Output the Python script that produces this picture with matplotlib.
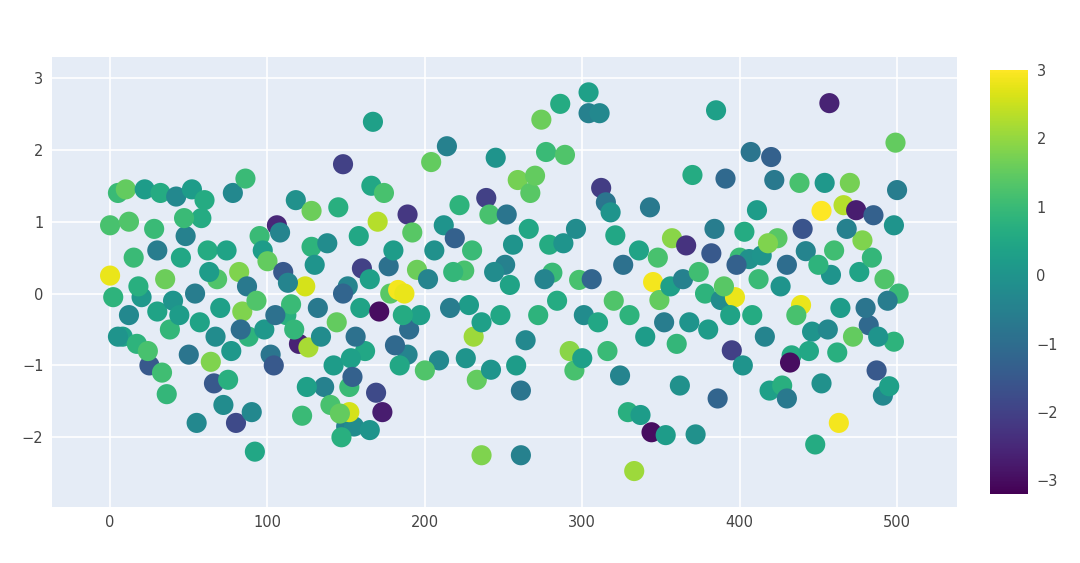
import matplotlib
matplotlib.use("Agg")
import matplotlib.pyplot as plt

# estimated points: (x, y, colour value)
pts = [
(0,0.25,2.8),(0,0.95,1.2),(2,-0.05,0.8),(5,1.4,1.0),(8,-0.6,0.3),(10,1.45,1.5),(12,1.0,1.3),(15,0.5,1.0),
(17,-0.7,0.8),(20,-0.05,0.1),(22,1.45,0.2),(25,-1.0,-1.5),(28,0.9,1.0),(30,-0.25,0.4),(32,1.4,0.6),(35,0.2,1.6),
(36,-1.4,0.9),(38,-0.5,0.9),(40,-0.1,0.0),(42,1.35,-0.3),(45,0.5,0.5),(48,0.8,-0.5),(50,-0.85,-0.8),(52,1.45,0.2),
(55,-1.8,-0.3),(58,1.05,0.6),(60,1.3,0.6),(62,0.6,0.6),(64,-0.95,1.8),(66,-1.25,-1.5),(68,0.2,1.3),(70,-0.2,0.3),
(72,-1.55,-0.2),(75,-1.2,0.7),(78,1.4,-0.3),(80,-1.8,-1.8),(82,0.3,1.8),(84,-0.25,1.8),(86,1.6,1.0),(88,-0.6,0.8),
(90,-1.65,-0.3),(92,-2.2,0.5),(95,0.8,1.0),(97,0.6,0.2),(100,0.45,1.5),(102,-0.85,-0.8),(104,-1.0,-1.5),(106,0.95,-2.5),
(108,0.85,-0.4),(110,0.3,-1.5),(112,-0.3,0.7),(115,-0.15,1.0),(118,1.3,-0.1),(120,-0.7,-2.6),(122,-1.7,1.0),(124,0.1,2.6),
(126,-0.75,2.2),(128,0.65,0.8),(130,0.4,0.0),(134,-0.6,-0.2),(136,-1.3,-0.5),(140,-1.55,1.2),(142,-1.0,0.2),(145,1.2,0.7),
(148,1.8,-2.0),(150,-1.85,-0.5),(152,-1.3,1.0),(155,-1.85,-0.2),(158,0.8,0.5),(160,0.35,-2.0),(162,-0.8,0.5),(165,0.2,0.3),
(5,-0.6,0.0),(12,-0.3,-0.3),(18,0.1,0.7),(24,-0.8,1.2),(30,0.6,-0.6),(33,-1.1,1.1),(44,-0.3,0.2),(47,1.05,1.0),
(54,0.0,-0.6),(57,-0.4,0.4),(63,0.3,0.2),(67,-0.6,-0.2),(74,0.6,0.4),(77,-0.8,0.1),(83,-0.5,-1.0),(87,0.1,-0.7),
(93,-0.1,1.3),(98,-0.5,0.1),(105,-0.3,-0.9),(113,0.15,-0.4),(117,-0.5,0.9),(125,-1.3,0.3),(132,-0.2,-0.7),(138,0.7,-0.2),
(144,-0.4,1.5),(151,0.1,-0.4),(156,-0.6,-0.9),(159,-0.2,0.4),(128,1.15,1.6),(148,0.0,-1.2),(153,-0.9,0.3),
(167,2.39,0.3),(166,1.5,0.5),(174,1.4,1.2),(170,1.0,2.3),(171,-0.25,-3.0),(173,-1.65,-2.7),(169,-1.38,-1.8),(165,-1.9,0.0),
(154,-1.16,-1.3),(152,-1.65,2.6),(146,-1.67,1.5),(147,-2.0,0.7),(177,0.38,-0.9),(178,0.0,1.4),(183,0.05,2.9),(187,0.0,2.8),
(189,1.1,-2.2),(192,0.85,1.4),(195,0.33,1.6),(204,1.83,1.5),(214,2.05,-0.5),(212,0.95,0.0),(209,-0.93,-0.3),(200,-1.07,1.3),
(190,-0.5,-1.0),(189,-0.85,-0.4),(184,-1.0,0.5),(181,-0.72,-1.1),(197,-0.3,0.3),(202,0.2,-0.4),(219,0.77,-1.3),(222,1.23,0.8),
(225,0.32,1.2),(228,-0.16,0.2),(231,-0.6,2.1),(233,-1.2,1.5),(236,-2.25,1.8),(239,1.33,-2.0),(242,-1.06,0.0),(245,1.89,0.0),
(241,1.1,1.2),(251,0.4,-0.5),(254,0.12,0.4),(256,0.68,0.0),(259,1.58,1.7),(261,-1.35,-0.8),(261,-2.25,-0.5),(264,-0.65,-0.3),
(267,1.4,1.4),(270,1.64,1.5),(274,2.42,1.6),(277,1.97,1.0),(279,0.68,0.6),(281,0.29,1.0),(286,2.64,0.6),(289,1.93,1.3),
(292,-0.8,1.9),(295,-1.07,1.2),(298,0.19,1.2),(301,-0.3,-0.2),(304,2.8,0.3),(304,2.51,-0.5),(311,2.51,-0.3),(312,1.47,-2.1),
(315,1.27,-0.8),(318,1.13,0.0),(321,0.81,0.5),(324,-1.14,-0.4),(329,-1.65,0.7),(333,-2.47,2.1),(337,-1.69,0.2),(343,1.2,-0.7),
(344,-1.93,-3.0),(345,0.16,2.9),(349,-0.09,1.5),(353,-1.97,0.2),(357,0.77,1.9),(362,-1.28,-0.1),(366,0.67,-2.3),(370,1.65,0.6),
(372,-1.96,-0.1),(378,0.0,0.8),(382,0.56,-1.5),(385,2.55,0.3),(388,-0.09,-0.2),(386,-1.46,-1.2),(391,1.6,-1.1),(395,-0.79,-2.0),
(397,-0.05,2.8),(400,0.5,1.0),(403,0.86,0.6),(406,0.48,-0.1),(407,1.97,-0.8),(411,1.16,0.2),(414,0.53,0.0),(419,-1.35,0.3),
(422,1.58,-0.7),(420,1.9,-1.3),(424,0.77,1.4),(427,-1.28,0.7),(430,-1.46,-0.7),(433,-0.86,0.6),(432,-0.96,-3.0),(438,1.54,1.2),
(439,-0.16,2.8),(442,0.59,-0.4),(446,-0.53,0.0),(448,-2.1,0.6),(452,-1.25,-0.1),(452,1.15,3.0),(454,1.54,0.1),(457,2.65,-2.6),
(458,0.26,0.0),(462,-0.82,0.7),(463,-1.8,2.9),(466,1.23,2.3),(470,1.54,1.7),(474,1.16,-2.7),(478,0.74,1.8),(482,-0.44,-1.1),
(485,1.09,-1.3),(487,-1.07,-1.5),(491,-1.42,-0.3),(495,-1.29,0.3),(498,0.95,0.0),(499,2.1,1.5),(500,1.44,-0.6),(501,0.0,1.0),
(498,-0.67,0.8),
(180,0.6,0.2),(186,-0.3,0.6),(206,0.6,-0.1),(216,-0.2,-0.6),(218,0.3,0.9),(226,-0.9,0.0),(230,0.6,1.0),(236,-0.4,0.3),
(244,0.3,-0.2),(248,-0.3,0.5),(252,1.1,-0.8),(258,-1.0,0.2),(266,0.9,0.5),(272,-0.3,0.8),(276,0.2,-0.4),(284,-0.1,0.6),
(288,0.7,0.0),(296,0.9,-0.2),(300,-0.9,0.3),(306,0.2,-1.2),(310,-0.4,0.5),(316,-0.8,1.0),(320,-0.1,1.3),(326,0.4,-0.9),
(330,-0.3,0.8),(336,0.6,0.4),(340,-0.6,0.2),(348,0.5,1.2),(352,-0.4,-0.6),(356,0.1,0.3),(360,-0.7,0.9),(364,0.2,-0.5),
(368,-0.4,0.0),(374,0.3,1.1),(380,-0.5,0.2),(384,0.9,-0.6),(390,0.1,1.4),(394,-0.3,0.4),(398,0.4,-1.3),(402,-1.0,0.0),
(408,-0.3,0.6),(412,0.2,1.0),(416,-0.6,-0.4),(418,0.7,1.8),(426,0.1,0.0),(430,0.4,-1.0),(436,-0.3,1.2),(440,0.9,-1.6),
(444,-0.8,0.5),(450,0.4,0.8),(456,-0.5,-0.3),(460,0.6,1.1),(464,-0.2,0.2),(468,0.9,-0.5),(472,-0.6,1.5),(476,0.3,0.4),
(480,-0.2,-0.8),(484,0.5,0.9),(488,-0.6,0.0),(492,0.2,1.3),(494,-0.1,-0.6),
]
xs = [p[0] for p in pts]
ys = [p[1] for p in pts]
cs = [p[2] for p in pts]

fig = plt.figure(figsize=(10.8, 5.63), dpi=100)
ax = fig.add_axes([0.048, 0.0995, 0.838, 0.799])
ax.set_facecolor("#E5ECF6")
for s in ax.spines.values():
    s.set_visible(False)
ax.set_axisbelow(True)
ax.grid(color="white", linewidth=1.2)
sc = ax.scatter(xs, ys, c=cs, cmap="viridis", vmin=-3.2, vmax=3.0, s=210, zorder=3, linewidths=0)
ax.set_xlim(-37, 538)
ax.set_ylim(-2.97, 3.29)
ax.set_xticks([0, 100, 200, 300, 400, 500])
ax.set_yticks([-2, -1, 0, 1, 2, 3])
ax.set_yticklabels(["\u22122", "\u22121", "0", "1", "2", "3"])
ax.tick_params(length=0, labelsize=10.5, labelcolor="#444444", pad=6)

cax = fig.add_axes([0.917, 0.1226, 0.035, 0.753])
cb = fig.colorbar(sc, cax=cax)
cb.outline.set_visible(False)
cb.set_ticks([-3, -2, -1, 0, 1, 2, 3])
cb.set_ticklabels(["\u22123", "\u22122", "\u22121", "0", "1", "2", "3"])
cax.tick_params(length=0, labelsize=10.5, labelcolor="#444444", pad=6)

fig.savefig("out.png", dpi=100)
